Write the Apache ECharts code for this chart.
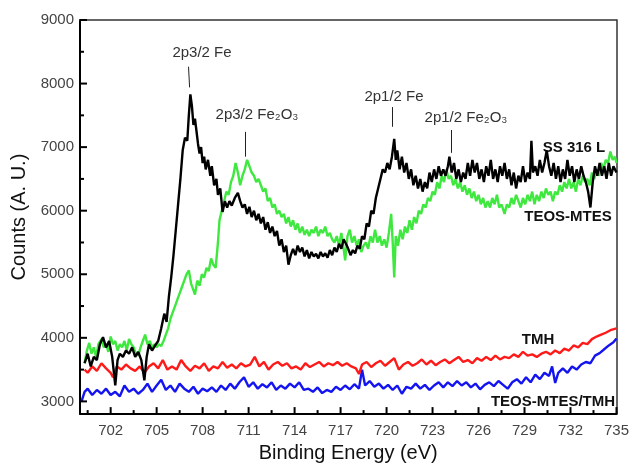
<!DOCTYPE html>
<html>
<head>
<meta charset="utf-8">
<script src="https://cdn.jsdelivr.net/npm/echarts@6/dist/echarts.min.js"></script>
<style>
  html, body { margin: 0; padding: 0; background: #fff; }
  #chart { width: 632px; height: 468px; }
</style>
</head>
<body>
<div id="chart"></div>
<script>
// tick labels
const xTicks = [702, 705, 708, 711, 714, 717, 720, 723, 726, 729, 732, 735];
const xMinorTicks = [700.5, 703.5, 706.5, 709.5, 712.5, 715.5, 718.5, 721.5, 724.5, 727.5, 730.5, 733.5];
const yTicks = [3000, 4000, 5000, 6000, 7000, 8000, 9000];
const yMinorTicks = [3500, 4500, 5500, 6500, 7500, 8500];

// [binding energy (eV), counts]
const ss316L = [
  [700.3,3600],[700.5,3750],[700.7,3550],[700.9,3700],[701.1,3650],[701.3,3900],[701.5,4010],[701.7,3850],[701.9,3950],
  [702.1,3700],[702.3,3250],[702.45,3650],[702.6,3750],[702.8,3700],[703.0,3800],[703.2,3750],[703.4,3850],[703.6,3700],
  [703.8,3780],[704.0,3650],[704.2,3330],[704.35,3700],[704.5,3900],[704.7,3800],[704.9,3880],[705.1,3950],[705.3,4150],
  [705.5,4380],[705.65,4250],[705.8,4650],[705.95,4950],[706.1,5300],[706.25,5700],[706.4,6100],[706.55,6500],[706.7,6950],
  [706.85,7150],[707.0,7100],[707.1,7500],[707.2,7830],[707.3,7650],[707.4,7350],[707.5,7450],[707.6,7250],[707.7,7050],
  [707.8,6900],[707.9,7000],[708.0,6750],[708.1,6850],[708.2,6650],[708.35,6800],[708.5,6550],[708.6,6700],[708.75,6400],
  [708.9,6500],[709.0,6250],[709.15,6350],[709.3,5980],[709.45,6150],[709.6,6050],[709.75,6150],[709.9,6080],[710.1,6200],
  [710.3,6280],[710.45,6150],[710.6,6050],[710.75,6100],[710.9,5950],[711.05,6060],[711.2,5900],[711.35,6000],[711.5,5850],
  [711.65,5950],[711.8,5800],[711.95,5900],[712.1,5700],[712.25,5820],[712.4,5650],[712.55,5750],[712.7,5600],[712.85,5680],
  [713.0,5450],[713.15,5550],[713.3,5350],[713.45,5450],[713.6,5150],[713.75,5300],[713.9,5400],[714.05,5300],[714.2,5450],
  [714.35,5350],[714.5,5420],[714.65,5280],[714.8,5380],[714.95,5250],[715.1,5350],[715.25,5280],[715.4,5320],[715.55,5250],
  [715.7,5350],[715.85,5280],[716.0,5330],[716.15,5260],[716.3,5380],[716.45,5300],[716.6,5420],[716.75,5350],[716.9,5480],
  [717.05,5400],[717.2,5550],[717.35,5480],[717.5,5400],[717.65,5300],[717.8,5380],[717.95,5330],[718.1,5450],[718.25,5400],
  [718.4,5600],[718.55,5550],[718.7,5800],[718.85,5750],[719.0,6000],[719.15,5950],[719.3,6200],[719.45,6350],[719.6,6500],
  [719.75,6650],[719.9,6600],[720.05,6750],[720.2,6650],[720.35,6850],[720.5,7130],[720.6,6800],[720.7,6950],[720.85,6650],
  [721.0,6850],[721.15,6600],[721.3,6750],[721.45,6500],[721.6,6650],[721.75,6400],[721.9,6550],[722.05,6350],[722.2,6500],
  [722.35,6300],[722.5,6450],[722.65,6350],[722.8,6600],[722.95,6450],[723.1,6650],[723.25,6500],[723.4,6700],[723.55,6550],
  [723.7,6650],[723.85,6550],[724.0,6700],[724.1,6850],[724.25,6600],[724.4,6750],[724.55,6500],[724.7,6650],[724.85,6450],
  [725.0,6600],[725.15,6500],[725.3,6750],[725.45,6550],[725.6,6800],[725.75,6600],[725.9,6750],[726.05,6500],[726.2,6650],
  [726.35,6450],[726.5,6700],[726.65,6550],[726.8,6800],[726.95,6500],[727.1,6650],[727.25,6450],[727.4,6700],[727.55,6550],
  [727.7,6750],[727.85,6500],[728.0,6650],[728.15,6400],[728.3,6600],[728.45,6350],[728.6,6550],[728.75,6450],[728.9,6700],
  [729.05,6450],[729.2,6600],[729.35,6500],[729.45,7100],[729.55,6600],[729.7,6700],[729.85,6550],[730.0,6800],[730.15,6600],
  [730.3,6750],[730.45,6950],[730.6,6700],[730.75,6550],[730.9,6750],[731.05,6500],[731.2,6700],[731.35,6450],[731.5,6650],
  [731.65,6500],[731.8,6800],[731.95,6550],[732.1,6700],[732.25,6450],[732.4,6650],[732.55,6500],[732.7,6700],[732.85,6550],
  [733.0,6450],[733.15,6300],[733.3,6050],[733.45,6450],[733.6,6700],[733.75,6550],[733.9,6750],[734.05,6550],[734.2,6700],
  [734.35,6500],[734.5,6750],[734.65,6550],[734.8,6700],[735.0,6600]
];

const teosMtes = [
  [700.3,3600],[700.45,3800],[700.6,3920],[700.75,3750],[700.9,3850],[701.05,3700],[701.2,3900],[701.4,3980],[701.55,3850],
  [701.7,3900],[701.85,3780],[702.0,4020],[702.15,3900],[702.3,3950],[702.45,3800],[702.6,3900],[702.75,3850],[702.9,3950],
  [703.05,3800],[703.2,3980],[703.35,3900],[703.5,3850],[703.65,3750],[703.8,3720],[703.95,3850],[704.1,3950],[704.25,4050],
  [704.4,3900],[704.55,3950],[704.7,3850],[704.85,3900],[705.0,3850],[705.15,3900],[705.3,3870],[705.45,3950],[705.6,4050],
  [705.75,4150],[705.9,4300],[706.05,4400],[706.2,4500],[706.35,4600],[706.5,4700],[706.65,4800],[706.8,4900],[706.95,5000],
  [707.1,5060],[707.25,4850],[707.4,4750],[707.5,4680],[707.65,4900],[707.8,4820],[707.95,5000],[708.1,4950],[708.25,5100],
  [708.4,5050],[708.55,5250],[708.7,5150],[708.85,5100],[709.0,5500],[709.1,5850],[709.25,6000],[709.4,6150],[709.55,6300],
  [709.7,6250],[709.85,6450],[710.0,6550],[710.15,6750],[710.3,6600],[710.45,6400],[710.6,6550],[710.75,6650],[710.9,6800],
  [711.05,6700],[711.2,6600],[711.35,6550],[711.5,6450],[711.65,6500],[711.8,6400],[711.95,6300],[712.1,6350],[712.25,6150],
  [712.4,6200],[712.55,6050],[712.7,6100],[712.85,5950],[713.0,6000],[713.15,5900],[713.3,5950],[713.45,5800],[713.6,5900],
  [713.75,5750],[713.9,5850],[714.05,5700],[714.2,5800],[714.35,5650],[714.5,5750],[714.65,5620],[714.8,5700],[714.95,5600],
  [715.1,5700],[715.25,5650],[715.4,5750],[715.55,5600],[715.7,5700],[715.85,5650],[716.0,5750],[716.15,5600],[716.3,5650],
  [716.45,5550],[716.6,5500],[716.75,5600],[716.9,5450],[717.05,5650],[717.2,5400],[717.3,5220],[717.45,5600],[717.6,5700],
  [717.75,5500],[717.9,5600],[718.05,5450],[718.2,5550],[718.35,5350],[718.5,5450],[718.65,5500],[718.8,5400],[718.95,5600],
  [719.1,5500],[719.25,5700],[719.4,5500],[719.55,5600],[719.7,5450],[719.85,5550],[720.0,5420],[720.15,5650],[720.3,5950],
  [720.4,5500],[720.5,4950],[720.6,5600],[720.75,5450],[720.9,5700],[721.05,5550],[721.2,5750],[721.35,5650],[721.5,5850],
  [721.65,5700],[721.8,5900],[721.95,5800],[722.1,6000],[722.25,5950],[722.4,6100],[722.55,6050],[722.7,6200],[722.85,6150],
  [723.0,6300],[723.15,6250],[723.3,6450],[723.45,6350],[723.6,6550],[723.75,6450],[723.9,6650],[724.05,6500],[724.2,6550],
  [724.35,6400],[724.5,6500],[724.65,6350],[724.8,6450],[724.95,6300],[725.1,6400],[725.25,6250],[725.4,6350],[725.55,6200],
  [725.7,6300],[725.85,6150],[726.0,6250],[726.15,6100],[726.3,6200],[726.45,6050],[726.6,6150],[726.75,6050],[726.9,6200],
  [727.05,6100],[727.2,6250],[727.35,6050],[727.5,6100],[727.7,5950],[727.85,6100],[728.0,6050],[728.15,6200],[728.3,6100],
  [728.45,6250],[728.6,6150],[728.75,6050],[728.9,6200],[729.05,6100],[729.2,6250],[729.35,6150],[729.5,6300],[729.65,6100],
  [729.8,6250],[729.95,6150],[730.1,6300],[730.25,6200],[730.4,6350],[730.55,6250],[730.7,6300],[730.85,6150],[731.0,6300],
  [731.15,6250],[731.3,6400],[731.45,6300],[731.6,6450],[731.75,6350],[731.9,6500],[732.05,6350],[732.2,6450],[732.35,6300],
  [732.5,6500],[732.65,6400],[732.8,6550],[732.95,6450],[733.1,6500],[733.25,6400],[733.4,6600],[733.55,6500],[733.7,6650],
  [733.85,6550],[734.0,6750],[734.15,6650],[734.3,6800],[734.45,6750],[734.6,6930],[734.75,6800],[734.9,6850],[735.0,6750]
];

const tmh = [
  [700.3,3500],[700.5,3450],[700.8,3550],[701.1,3480],[701.4,3600],[701.7,3520],[702.0,3450],[702.15,3380],[702.4,3550],
  [702.7,3500],[703.0,3580],[703.3,3520],[703.6,3480],[703.9,3550],[704.2,3450],[704.5,3550],[704.8,3600],[705.1,3520],
  [705.4,3650],[705.7,3500],[706.0,3550],[706.3,3500],[706.6,3650],[706.9,3550],[707.2,3480],[707.5,3560],[707.8,3520],
  [708.1,3600],[708.4,3480],[708.7,3550],[709.0,3520],[709.3,3620],[709.6,3530],[709.9,3580],[710.2,3520],[710.5,3600],
  [710.8,3550],[711.1,3580],[711.4,3700],[711.7,3550],[712.0,3620],[712.3,3500],[712.6,3580],[712.9,3620],[713.2,3560],
  [713.5,3600],[713.8,3520],[714.1,3550],[714.4,3500],[714.7,3600],[715.0,3540],[715.3,3580],[715.6,3620],[715.9,3550],
  [716.2,3600],[716.5,3570],[716.8,3620],[717.1,3560],[717.4,3600],[717.7,3550],[718.0,3520],[718.2,3430],[718.4,3580],
  [718.7,3620],[719.0,3540],[719.3,3600],[719.6,3640],[719.9,3560],[720.2,3620],[720.5,3680],[720.8,3500],[721.1,3580],
  [721.4,3620],[721.7,3560],[722.0,3600],[722.3,3660],[722.6,3580],[722.9,3640],[723.2,3570],[723.5,3620],[723.8,3660],
  [724.1,3600],[724.4,3650],[724.7,3700],[725.0,3620],[725.3,3650],[725.6,3600],[725.9,3680],[726.2,3640],[726.5,3700],
  [726.8,3650],[727.1,3720],[727.4,3660],[727.7,3700],[728.0,3680],[728.3,3740],[728.6,3700],[728.9,3780],[729.2,3720],
  [729.5,3740],[729.8,3700],[730.1,3750],[730.4,3780],[730.7,3740],[731.0,3800],[731.3,3760],[731.6,3830],[731.9,3800],
  [732.2,3880],[732.5,3850],[732.8,3920],[733.1,3900],[733.4,3980],[733.7,4020],[734.0,4050],[734.3,4080],[734.6,4120],
  [735.0,4150]
];

const teosMtesTmh = [
  [700.1,3000],[700.3,3150],[700.5,3200],[700.8,3100],[701.1,3180],[701.4,3120],[701.7,3200],[702.0,3100],[702.3,3150],
  [702.6,3080],[702.9,3250],[703.2,3150],[703.5,3200],[703.8,3120],[704.1,3180],[704.4,3280],[704.7,3150],[705.0,3250],
  [705.3,3340],[705.6,3180],[705.9,3250],[706.2,3150],[706.5,3280],[706.8,3200],[707.1,3150],[707.4,3230],[707.7,3120],
  [708.0,3200],[708.3,3160],[708.6,3220],[708.9,3150],[709.2,3250],[709.5,3180],[709.8,3280],[710.1,3200],[710.4,3300],
  [710.7,3380],[711.0,3230],[711.3,3300],[711.6,3200],[711.9,3270],[712.2,3220],[712.5,3300],[712.8,3180],[713.1,3250],
  [713.4,3200],[713.7,3280],[714.0,3220],[714.3,3300],[714.6,3180],[714.9,3200],[715.2,3150],[715.5,3220],[715.8,3130],
  [716.1,3180],[716.4,3150],[716.7,3230],[717.0,3180],[717.3,3250],[717.6,3190],[717.9,3270],[718.2,3200],[718.4,3500],
  [718.6,3250],[718.9,3320],[719.2,3230],[719.5,3280],[719.8,3200],[720.1,3260],[720.4,3180],[720.7,3250],[721.0,3120],
  [721.3,3230],[721.6,3200],[721.9,3280],[722.2,3200],[722.5,3260],[722.8,3180],[723.1,3250],[723.4,3300],[723.7,3220],
  [724.0,3300],[724.3,3240],[724.6,3320],[724.9,3250],[725.2,3300],[725.5,3220],[725.8,3280],[726.1,3190],[726.4,3260],
  [726.7,3300],[727.0,3240],[727.3,3320],[727.6,3260],[727.9,3200],[728.2,3300],[728.5,3350],[728.8,3280],[729.1,3380],
  [729.4,3300],[729.7,3420],[730.0,3350],[730.3,3450],[730.6,3400],[730.8,3550],[731.0,3290],[731.2,3450],[731.5,3520],
  [731.8,3450],[732.1,3550],[732.4,3500],[732.7,3580],[733.0,3620],[733.3,3600],[733.6,3720],[733.9,3760],[734.2,3820],
  [734.5,3880],[734.8,3930],[735.0,3990]
];

// peak marker lines: [energy, counts from, energy, counts to]
const peakLines = [
  [707.08, 8265, 707.15, 7940],
  [710.78, 7240, 710.78, 6850],
  [720.39, 7630, 720.39, 7320],
  [724.22, 7270, 724.22, 6910]
];

const chart = echarts.init(document.getElementById('chart'));

const labelFont = 'Liberation Sans, Arial, sans-serif';
const X_MIN = 700, X_MAX = 735, Y_MIN = 2800, Y_MAX = 9000;

function lineSeries(name, data, color, z) {
  return {
    name: name,
    type: 'line',
    data: data,
    showSymbol: false,
    symbol: 'none',
    animation: false,
    z: z,
    lineStyle: { color: color, width: 2.4 }
  };
}

// inward ticks, placed through the axis scale
function tickSeries(values, isX, len) {
  return {
    type: 'custom',
    silent: true,
    clip: false,
    z: 10,
    animation: false,
    encode: isX ? { x: 0 } : { y: 0 },
    data: values.map(v => [v]),
    renderItem: function (params, api) {
      const v = api.value(0);
      const p = isX ? api.coord([v, Y_MIN]) : api.coord([X_MIN, v]);
      const shape = isX
        ? { x1: p[0], y1: p[1], x2: p[0], y2: p[1] - len }
        : { x1: p[0], y1: p[1], x2: p[0] + len, y2: p[1] };
      return { type: 'line', shape: shape, style: { stroke: '#000', lineWidth: 2 } };
    }
  };
}

const blackSeries = lineSeries('SS 316 L', ss316L, '#000000', 5);
blackSeries.markLine = {
  silent: true,
  symbol: 'none',
  label: { show: false },
  lineStyle: { color: '#222', width: 1, type: 'solid' },
  animation: false,
  data: peakLines.map(p => [{ coord: [p[0], p[1]] }, { coord: [p[2], p[3]] }])
};

const option = {
  backgroundColor: '#fff',
  animation: false,
  grid: { left: 80, right: 13, top: 20, bottom: 50 },
  xAxis: [
    {
      type: 'value', min: X_MIN, max: X_MAX,
      name: 'Binding Energy (eV)', nameLocation: 'middle', nameGap: 28,
      nameTextStyle: { fontFamily: labelFont, fontSize: 20, color: '#111' },
      axisLine: { show: true, lineStyle: { color: '#000', width: 2 } },
      axisTick: { show: false },
      axisLabel: { show: true, customValues: xTicks, margin: 9, fontFamily: labelFont, fontSize: 15, color: '#444' },
      splitLine: { show: false }
    },
    {
      type: 'value', min: X_MIN, max: X_MAX, position: 'top',
      axisLine: { show: true, lineStyle: { color: '#333', width: 1.5 } },
      axisTick: { show: false }, axisLabel: { show: false }, splitLine: { show: false }
    }
  ],
  yAxis: [
    {
      type: 'value', min: Y_MIN, max: Y_MAX,
      name: 'Counts (A. U.)', nameLocation: 'middle', nameGap: 44,
      nameTextStyle: { fontFamily: labelFont, fontSize: 20, color: '#111' },
      axisLine: { show: true, lineStyle: { color: '#000', width: 2 } },
      axisTick: { show: false },
      axisLabel: { show: true, customValues: yTicks, margin: 6, fontFamily: labelFont, fontSize: 15, color: '#444',
        formatter: v => String(v) },
      splitLine: { show: false }
    },
    {
      type: 'value', min: Y_MIN, max: Y_MAX, position: 'right',
      axisLine: { show: true, lineStyle: { color: '#333', width: 1.5 } },
      axisTick: { show: false }, axisLabel: { show: false }, splitLine: { show: false }
    }
  ],
  series: [
    lineSeries('TEOS-MTES/TMH', teosMtesTmh, '#1414f0', 2),
    lineSeries('TMH', tmh, '#ff1a1a', 3),
    lineSeries('TEOS-MTES', teosMtes, '#3ee83e', 4),
    blackSeries,
    tickSeries(xTicks, true, 7),
    tickSeries(xMinorTicks, true, 4),
    tickSeries(yTicks, false, 7),
    tickSeries(yMinorTicks, false, 4)
  ],
  graphic: [
    { type: 'text', x: 202, y: 53, style: { text: '2p3/2 Fe', font: '15px ' + labelFont, fill: '#333', align: 'center', verticalAlign: 'middle' } },
    { type: 'text', x: 257, y: 115, style: { text: '2p3/2 Fe₂O₃', font: '15px ' + labelFont, fill: '#333', align: 'center', verticalAlign: 'middle' } },
    { type: 'text', x: 394, y: 97, style: { text: '2p1/2 Fe', font: '15px ' + labelFont, fill: '#333', align: 'center', verticalAlign: 'middle' } },
    { type: 'text', x: 466, y: 118, style: { text: '2p1/2 Fe₂O₃', font: '15px ' + labelFont, fill: '#333', align: 'center', verticalAlign: 'middle' } },
    { type: 'text', x: 574, y: 148, style: { text: 'SS 316 L', font: 'bold 15px ' + labelFont, fill: '#111', align: 'center', verticalAlign: 'middle' } },
    { type: 'text', x: 568, y: 217, style: { text: 'TEOS-MTES', font: 'bold 15px ' + labelFont, fill: '#111', align: 'center', verticalAlign: 'middle' } },
    { type: 'text', x: 538, y: 340, style: { text: 'TMH', font: 'bold 15px ' + labelFont, fill: '#111', align: 'center', verticalAlign: 'middle' } },
    { type: 'text', x: 553, y: 402, style: { text: 'TEOS-MTES/TMH', font: 'bold 15px ' + labelFont, fill: '#111', align: 'center', verticalAlign: 'middle' } }
  ]
};

chart.setOption(option);
</script>
</body>
</html>
